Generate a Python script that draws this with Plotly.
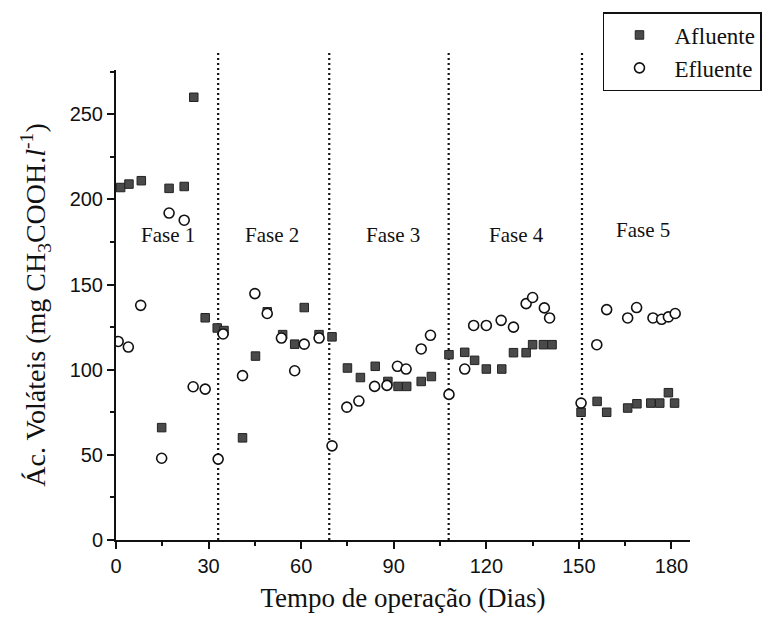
import plotly.graph_objects as go

# Afluente (squares)
af_day = [1.5, 4.2, 8.2, 14.8, 17.2, 22.1, 25.2, 28.9, 32.8, 35.0, 41.0, 45.2, 49.0, 54.0, 57.9,
          61.0, 65.8, 70.0, 75.0, 79.2, 84.0, 88.1, 91.4, 94.2, 98.9, 102.2, 107.9, 113.0, 116.2,
          120.0, 125.0, 128.8, 132.9, 135.0, 138.5, 141.3, 150.7, 155.9, 159.0, 165.8, 168.8,
          173.3, 176.2, 179.0, 181.0]
af_val = [207, 209, 211, 66, 206.5, 207.6, 260, 130.5, 124.5, 123, 60, 108, 134, 120.6, 115,
          136.5, 120.6, 119.3, 101, 95.4, 102, 93.1, 90.2, 90.2, 93.1, 96, 108.8, 110.2, 105.5,
          100.4, 100.4, 110, 110, 114.7, 114.7, 114.7, 75, 81.4, 75, 77.5, 80,
          80.4, 80.4, 86.5, 80.4]

# Efluente (open circles)
ef_day = [0.7, 4.0, 8.0, 14.8, 17.2, 22.1, 25.0, 28.9, 33.1, 34.7, 41.0, 45.0, 49.0, 53.6, 57.9,
          61.0, 65.8, 70.0, 74.8, 78.7, 83.8, 87.8, 91.2, 94.0, 98.9, 101.9, 107.9, 113.0, 115.9,
          120.0, 124.8, 128.8, 132.9, 135.0, 138.8, 140.5, 150.7, 155.8, 159.0, 165.8, 168.7,
          174.0, 176.8, 179.0, 181.2]
ef_val = [116.6, 113.3, 137.8, 48, 192, 187.8, 90, 88.6, 47.5, 121, 96.5, 144.7, 133, 118.6, 99.4,
          115, 118.6, 55.3, 78, 81.6, 90.2, 90.8, 102, 100.4, 112.2, 120.2, 85.5, 100.4, 126,
          126, 129, 125, 138.8, 142.4, 136.3, 130.4, 80.4, 114.7, 135.3, 130.4, 136.5,
          130.4, 129.6, 131, 133]

# Phase boundaries and labels
phase_bounds = [33.1, 69.1, 107.8, 151.0]
phase_labels = ["Fase 1", "Fase 2", "Fase 3", "Fase 4", "Fase 5"]
phase_label_x = [17.0, 50.6, 89.6, 129.7, 170.7]
phase_label_y = [179, 179, 179, 179, 182]

x_ticks = [0, 30, 60, 90, 120, 150, 180]
y_ticks = [0, 50, 100, 150, 200, 250]

SERIF = "Liberation Serif, Times New Roman, serif"
SANS = "Liberation Sans, Arial, sans-serif"

fig = go.Figure()
fig.add_trace(go.Scatter(
    x=af_day, y=af_val, mode="markers", name="Afluente",
    marker=dict(symbol="square", size=8.5, color="#4a4a4a", line=dict(color="#222222", width=1)),
))
fig.add_trace(go.Scatter(
    x=ef_day, y=ef_val, mode="markers", name="Efluente",
    marker=dict(symbol="circle", size=10, color="white", line=dict(color="#111111", width=1.6)),
))

for b in phase_bounds:
    fig.add_shape(type="line", xref="x", yref="paper", x0=b, x1=b, y0=0, y1=1.04,
                  line=dict(color="#111111", width=2.2, dash="2px,3px"), layer="below")

for lab, lx, ly in zip(phase_labels, phase_label_x, phase_label_y):
    fig.add_annotation(x=lx, y=ly, text=lab, showarrow=False, xref="x", yref="y",
                       font=dict(family=SERIF, size=21, color="#111111"))

fig.update_layout(
    width=779, height=623,
    margin=dict(l=116, r=89, t=70, b=83, autoexpand=False),
    paper_bgcolor="white", plot_bgcolor="white",
    showlegend=True,
    legend=dict(x=0.8484, y=1.1234, xanchor="left", yanchor="top",
                bordercolor="#111111", borderwidth=1.5, bgcolor="white",
                font=dict(family=SERIF, size=23, color="#111111"),
                itemwidth=60, entrywidth=190, itemsizing="trace"),
    xaxis=dict(range=[0, 186], tickmode="array", tickvals=x_ticks,
               ticks="outside", ticklen=7, tickwidth=1.5, tickcolor="#111111",
               minor=dict(dtick=15, tick0=0, ticks="outside", ticklen=4, tickwidth=1.5, tickcolor="#111111"),
               showline=True, linewidth=2, linecolor="#111111", showgrid=False, zeroline=False,
               tickfont=dict(family=SANS, size=20, color="#111111"),
               title=dict(text="Tempo de operação (Dias)", standoff=12,
                          font=dict(family=SERIF, size=27, color="#111111"))),
    yaxis=dict(range=[0, 276], tickmode="array", tickvals=y_ticks,
               ticks="outside", ticklen=7, tickwidth=1.5, tickcolor="#111111",
               minor=dict(dtick=25, tick0=0, ticks="outside", ticklen=4, tickwidth=1.5, tickcolor="#111111"),
               showline=True, linewidth=2, linecolor="#111111", showgrid=False, zeroline=False,
               tickfont=dict(family=SANS, size=20, color="#111111"),
               title=dict(text="Ác. Voláteis (mg CH<sub>3</sub>COOH.<i>l</i><sup>-1</sup>)", standoff=16,
                          font=dict(family=SERIF, size=28, color="#111111"))),
)

fig.write_html("out.html")
